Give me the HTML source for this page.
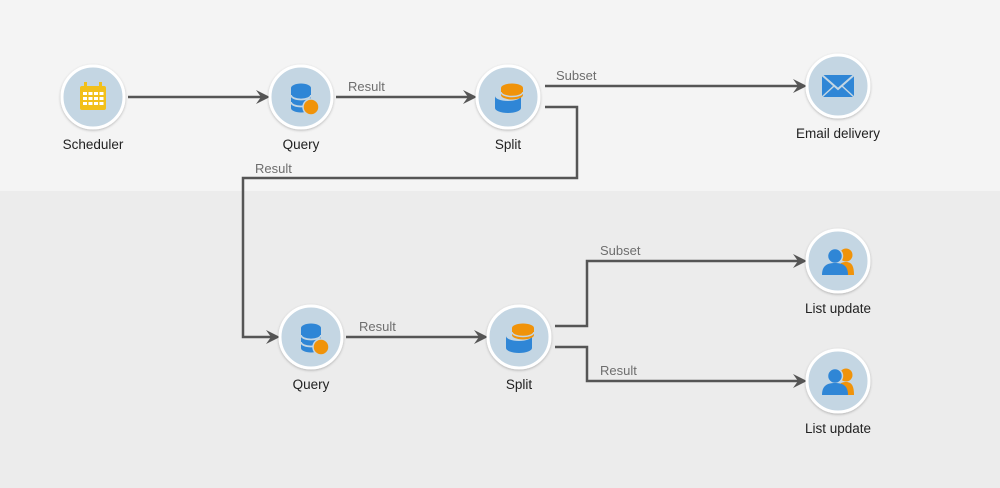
<!DOCTYPE html>
<html><head><meta charset="utf-8"><style>
html,body{margin:0;padding:0;width:1000px;height:488px;overflow:hidden;background:#ececec;}
svg{display:block;font-family:"Liberation Sans",Arial,sans-serif;}
</style></head><body>
<svg width="1000" height="488" viewBox="0 0 1000 488">
<defs>
<filter id="sh" x="-20%" y="-20%" width="140%" height="140%"><feDropShadow dx="0" dy="1" stdDeviation="1.2" flood-color="#000" flood-opacity="0.25"/></filter>
<g id="node"><circle r="31" fill="#c4d6e3" stroke="#fff" stroke-width="3" filter="url(#sh)"/></g>
<g id="arrow"><path d="M-14,-7 L0,0 L-14,7 L-9,0 Z" fill="#555"/></g>
<g id="db"><ellipse cx="0" cy="-9" rx="10" ry="4.5" fill="#2f86d6"/><path d="M-10,-9 V11 A10,4.5 0 0 0 10,11 V-9" fill="#2f86d6"/><path d="M-10,-2 A10,4.5 0 0 0 10,-2 M-10,5 A10,4.5 0 0 0 10,5" stroke="#c4d6e3" stroke-width="1.8" fill="none"/><circle cx="10" cy="10" r="8" fill="#f0930a" stroke="#c4d6e3" stroke-width="1.5"/></g>
<g id="split"><path d="M-13,-1 V11 A13,5 0 0 0 13,11 V-1 A13,5 0 0 1 -13,-1 Z" fill="#2f86d6"/><ellipse cx="4" cy="-9" rx="11" ry="4.5" fill="#f0930a"/><path d="M-7,-9 V-2 A11,4.5 0 0 0 15,-2 V-9" fill="#f0930a"/><path d="M-7,-5 A11,4.5 0 0 0 15,-5" stroke="#c4d6e3" stroke-width="1.5" fill="none"/></g>
<g id="people"><circle cx="8" cy="-6" r="6.5" fill="#f0930a"/><path d="M-1,14 C-1,3 3,1 8,1 C13,1 16,4 16,14 Z" fill="#f0930a"/><circle cx="-3" cy="-5" r="7.5" stroke="#c4d6e3" stroke-width="1.5" fill="#2f86d6"/><path d="M-16,14 C-16,4 -10,2 -3,2 C4,2 10,4 10,14 Z" fill="#2f86d6"/></g>
</defs>
<rect x="0" y="0" width="1000" height="191" fill="#f4f4f4"/>
<rect x="0" y="191" width="1000" height="297" fill="#ececec"/>
<g stroke="#555" stroke-width="2.5" fill="none">
<path d="M128,97 H262"/>
<path d="M336,97 H469"/>
<path d="M545,86 H799"/>
<path d="M545,107 H577 V178 H243 V337 H272"/>
<path d="M346,337 H480"/>
<path d="M555,326 H587 V261 H799"/>
<path d="M555,347 H587 V381 H799"/>
</g>
<use href="#arrow" x="270" y="97"/>
<use href="#arrow" x="477" y="97"/>
<use href="#arrow" x="807" y="86"/>
<use href="#arrow" x="280" y="337"/>
<use href="#arrow" x="488" y="337"/>
<use href="#arrow" x="807" y="261"/>
<use href="#arrow" x="807" y="381"/>
<g font-size="13" fill="#6e6e6e">
<text x="348" y="91">Result</text>
<text x="556" y="80">Subset</text>
<text x="255" y="173">Result</text>
<text x="359" y="331">Result</text>
<text x="600" y="255">Subset</text>
<text x="600" y="375">Result</text>
</g>
<g transform="translate(93,97)"><use href="#node"/>
<rect x="-13" y="-11" width="26" height="24" rx="2" fill="#f2c01a"/><rect x="-9" y="-15" width="3" height="6" fill="#f2c01a"/><rect x="6" y="-15" width="3" height="6" fill="#f2c01a"/>
<g fill="#fff"><rect x="-10" y="-5" width="4" height="3"/><rect x="-4.5" y="-5" width="4" height="3"/><rect x="1" y="-5" width="4" height="3"/><rect x="6.5" y="-5" width="4" height="3"/><rect x="-10" y="0" width="4" height="3"/><rect x="-4.5" y="0" width="4" height="3"/><rect x="1" y="0" width="4" height="3"/><rect x="6.5" y="0" width="4" height="3"/><rect x="-10" y="5" width="4" height="3"/><rect x="-4.5" y="5" width="4" height="3"/><rect x="1" y="5" width="4" height="3"/><rect x="6.5" y="5" width="4" height="3"/></g></g>
<g transform="translate(301,97)"><use href="#node"/><use href="#db"/></g>
<g transform="translate(508,97)"><use href="#node"/><use href="#split"/></g>
<g transform="translate(838,86)"><use href="#node"/><rect x="-16" y="-11" width="32" height="22" fill="#2f86d6"/><path d="M-16,-11 L0,3 L16,-11" stroke="#c4d6e3" stroke-width="2" fill="none"/><path d="M-16,11 L-4,0 M16,11 L4,0" stroke="#c4d6e3" stroke-width="1.5"/></g>
<g transform="translate(311,337)"><use href="#node"/><use href="#db"/></g>
<g transform="translate(519,337)"><use href="#node"/><use href="#split"/></g>
<g transform="translate(838,261)"><use href="#node"/><use href="#people"/></g>
<g transform="translate(838,381)"><use href="#node"/><use href="#people"/></g>
<g font-size="13.5" fill="#222" text-anchor="middle">
<text x="93" y="149">Scheduler</text>
<text x="301" y="149">Query</text>
<text x="508" y="149">Split</text>
<text x="838" y="138">Email delivery</text>
<text x="311" y="389">Query</text>
<text x="519" y="389">Split</text>
<text x="838" y="313">List update</text>
<text x="838" y="433">List update</text>
</g>
</svg>
</body></html>
